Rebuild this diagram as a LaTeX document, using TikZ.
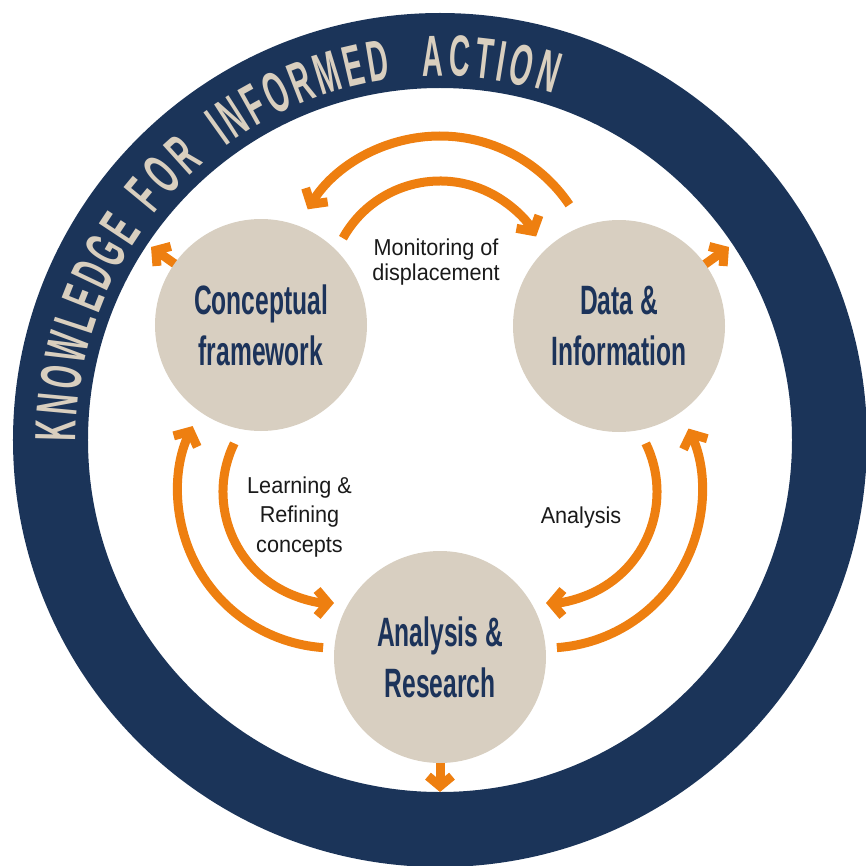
\documentclass[tikz,border=0pt]{standalone}
\usepackage{fontspec}
\setmainfont{Liberation Sans}
\newfontfamily\headfont[FakeStretch=0.6]{Liberation Sans Bold}
\newfontfamily\ringfont[FakeStretch=0.5]{Liberation Sans Bold}
\newfontfamily\labfont[FakeStretch=0.94]{Liberation Sans}
\usetikzlibrary{arrows.meta,backgrounds,decorations.text}
\definecolor{navy}{HTML}{1B3459}
\definecolor{discfill}{HTML}{D8CFC1}
\definecolor{orangeA}{HTML}{EE7F10}
\definecolor{headnavy}{HTML}{1C335A}
\definecolor{ringtext}{HTML}{D9CFBF}
\definecolor{labtext}{HTML}{1A1A1A}
\begin{document}
\begin{tikzpicture}[x=1pt,y=1pt,
  disc/.style={circle, fill=discfill, minimum size=212pt, inner sep=0pt, align=center,
    text=headnavy, font=\headfont\fontsize{41}{51}\selectfont},
  flowarrow/.style={draw=orangeA, line width=9pt, -{Straight Barb[sharp,length=11pt,width=26pt]}},
  stubarrow/.style={draw=orangeA, line width=9pt, -{Straight Barb[sharp,length=10pt,width=24pt]}},
  lab/.style={align=center, text=labtext, inner sep=0pt},
  ringword/.style={decorate, decoration={text along path,
    text={|\ringfont\fontsize{58}{58}\selectfont|#1},
    text align={fit to path}, text color=ringtext}}]
\useasboundingbox (-440,-425) rectangle (426,440);

% circles
\node[disc] (concept) at (-179,115) {Conceptual\\framework};
\node[disc] (data) at (179,114) {Data \&\\Information};
\node[disc] (anres) at (0,-217) {Analysis \&\\Research};

% ring and stubs behind the circles
\begin{pgfonlayer}{background}
\fill[navy, even odd rule] (0,0) circle[radius=427] (0,0) circle[radius=352];
\coordinate (stubL) at (-289,193);
\coordinate (stubR) at (289,193);
\coordinate (stubB) at (0,-352);
\draw[stubarrow] (concept.center) -- (stubL);
\draw[stubarrow] (data.center) -- (stubR);
\draw[stubarrow] (anres.center) -- (stubB);
\end{pgfonlayer}

% ring text, one word per arc
\coordinate (wordA) at (180.3:364);
\coordinate (wordB) at (141.8:364);
\coordinate (wordC) at (126.2:364);
\coordinate (wordD) at (92.7:364);
\path[ringword=KNOWLEDGE] (wordA) arc[start angle=180.3, end angle=145.0, radius=364];
\path[ringword=FOR] (wordB) arc[start angle=141.8, end angle=130.4, radius=364];
\path[ringword=INFORMED] (wordC) arc[start angle=126.2, end angle=97.7, radius=364];
\path[ringword=ACTION] (wordD) arc[start angle=92.7, end angle=71.9, radius=364];

% arc centres
\coordinate (topc) at (0,148);
\coordinate (leftc) at (-106,-52);
\coordinate (rightc) at (106,-52);
% arc start points
\coordinate (monS) at ([shift={(topc)}]151:111);
\coordinate (retS) at ([shift={(topc)}]34:156);
\coordinate (lrnS) at ([shift={(leftc)}]154:111);
\coordinate (backL) at ([shift={(leftc)}]266:156);
\coordinate (anaS) at ([shift={(rightc)}]26:111);
\coordinate (backR) at ([shift={(rightc)}]-86:156);

\draw[flowarrow] (monS) arc[start angle=151, end angle=30, radius=111];
\draw[flowarrow] (retS) arc[start angle=34, end angle=148, radius=156];
\draw[flowarrow] (lrnS) arc[start angle=154, end angle=270, radius=111];
\draw[flowarrow] (backL) arc[start angle=266, end angle=155, radius=156];
\draw[flowarrow] (anaS) arc[start angle=26, end angle=-90, radius=111];
\draw[flowarrow] (backR) arc[start angle=-86, end angle=24, radius=156];

% labels
\node[lab, font=\labfont\fontsize{23}{24.5}\selectfont] (mon) at (-4,178) {Monitoring of\\displacement};
\node[lab, font=\labfont\fontsize{23}{29.5}\selectfont] (learn) at (-140.5,-76.7) {Learning \&\\Refining\\concepts};
\node[lab, font=\labfont\fontsize{23}{28}\selectfont, anchor=base] (anl) at (141,-83) {Analysis};
\end{tikzpicture}
\end{document}
